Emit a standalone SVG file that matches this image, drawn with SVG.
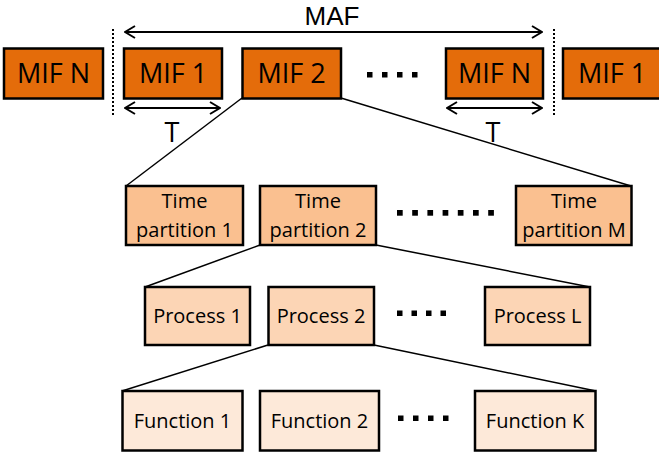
<svg xmlns="http://www.w3.org/2000/svg" width="659" height="456" viewBox="0 0 659 456">
<defs>
<marker id="chev" viewBox="0 0 12 14" refX="11" refY="7" markerWidth="12" markerHeight="14" markerUnits="userSpaceOnUse" orient="auto-start-reverse">
<path d="M1,1 L11,7 L1,13" fill="none" stroke="#000" stroke-width="2"/>
</marker>
</defs>
<style>
text{font-family:"Open Sans","Liberation Sans",sans-serif;fill:#000;text-anchor:middle}
.big{font-size:27px}
.sm{font-size:20px}
.mif{fill:#E46C0A;stroke:#000;stroke-width:2.5}
.tp{fill:#FAC090;stroke:#000;stroke-width:2.5}
.pr{fill:#FCD5B5;stroke:#000;stroke-width:2.5}
.fn{fill:#FDE9D9;stroke:#000;stroke-width:2.5}
.ln{stroke:#000;stroke-width:1.5;fill:none}
.arr{stroke:#000;stroke-width:2;fill:none;marker-start:url(#chev);marker-end:url(#chev)}
.dot{stroke:#000;stroke-width:2;stroke-dasharray:2 2;fill:none}
</style>
<g id="connectors">
<line class="ln" x1="242" y1="98" x2="126" y2="186"/>
<line class="ln" x1="341" y1="98" x2="631" y2="186"/>
<line class="ln" x1="260" y1="245" x2="145" y2="287"/>
<line class="ln" x1="376" y1="245" x2="590" y2="287"/>
<line class="ln" x1="268" y1="345" x2="122" y2="391"/>
<line class="ln" x1="374" y1="345" x2="596" y2="391"/>
</g>
<g id="annotations">
<line class="dot" x1="113" y1="29" x2="113" y2="117"/>
<line class="dot" x1="554" y1="29" x2="554" y2="117"/>
<line class="arr" x1="125" y1="32" x2="542" y2="32"/>
<text x="332" y="24.5" style="font-size:26px;font-family:'Liberation Sans',sans-serif">MAF</text>
<line class="arr" x1="125" y1="108" x2="220" y2="108"/>
<text class="big" x="172" y="142">T</text>
<line class="arr" x1="447" y1="108" x2="542" y2="108"/>
<text class="big" x="493" y="142">T</text>
</g>
<g id="dots">
<g fill="#000">
<rect x="367" y="72" width="5.5" height="5.5"/><rect x="382" y="72" width="5.5" height="5.5"/><rect x="397" y="72" width="5.5" height="5.5"/><rect x="412" y="72" width="5.5" height="5.5"/>
<rect x="397" y="210" width="5.7" height="5.7"/><rect x="412.2" y="210" width="5.7" height="5.7"/><rect x="427.4" y="210" width="5.7" height="5.7"/><rect x="442.6" y="210" width="5.7" height="5.7"/><rect x="457.8" y="210" width="5.7" height="5.7"/><rect x="473" y="210" width="5.7" height="5.7"/><rect x="488.2" y="210" width="5.7" height="5.7"/>
<rect x="397" y="310.5" width="5.5" height="5.5"/><rect x="411.5" y="310.5" width="5.5" height="5.5"/><rect x="426" y="310.5" width="5.5" height="5.5"/><rect x="440.5" y="310.5" width="5.5" height="5.5"/>
<rect x="398" y="415.5" width="5.5" height="5.5"/><rect x="413" y="415.5" width="5.5" height="5.5"/><rect x="428" y="415.5" width="5.5" height="5.5"/><rect x="443" y="415.5" width="5.5" height="5.5"/>
</g>
</g>
<g id="mifN-left"><rect class="mif" x="4" y="48.5" width="99" height="50"/><text class="big" x="53.5" y="83">MIF N</text></g>
<g id="mif1"><rect class="mif" x="124" y="48.5" width="98" height="50"/><text class="big" x="173" y="83">MIF 1</text></g>
<g id="mif2"><rect class="mif" x="242.5" y="48.5" width="98.5" height="50"/><text class="big" x="291.5" y="83">MIF 2</text></g>
<g id="mifN"><rect class="mif" x="446" y="48.5" width="97" height="50"/><text class="big" x="494.5" y="83">MIF N</text></g>
<g id="mif1-right"><rect class="mif" x="563" y="48.5" width="98" height="50"/><text class="big" x="612" y="83">MIF 1</text></g>
<g id="tp1"><rect class="tp" x="126" y="186" width="117" height="59"/><text class="sm" x="184.5" y="208">Time</text><text class="sm" x="184.5" y="237">partition 1</text></g>
<g id="tp2"><rect class="tp" x="260" y="186" width="116" height="59"/><text class="sm" x="318" y="208">Time</text><text class="sm" x="318" y="237">partition 2</text></g>
<g id="tpM"><rect class="tp" x="516" y="186" width="115.5" height="59"/><text class="sm" x="574" y="208">Time</text><text class="sm" x="574" y="237">partition M</text></g>
<g id="p1"><rect class="pr" x="145" y="287" width="105" height="58"/><text class="sm" x="197.5" y="323">Process 1</text></g>
<g id="p2"><rect class="pr" x="268.5" y="287" width="105.5" height="58"/><text class="sm" x="321" y="323">Process 2</text></g>
<g id="pL"><rect class="pr" x="485" y="287" width="105" height="58"/><text class="sm" x="537.5" y="323">Process L</text></g>
<g id="f1"><rect class="fn" x="122.5" y="391" width="120" height="59.5"/><text class="sm" x="182.5" y="428">Function 1</text></g>
<g id="f2"><rect class="fn" x="260" y="391" width="119" height="59.5"/><text class="sm" x="319.5" y="428">Function 2</text></g>
<g id="fK"><rect class="fn" x="475" y="391" width="120.5" height="59.5"/><text class="sm" x="535" y="428">Function K</text></g>
</svg>
